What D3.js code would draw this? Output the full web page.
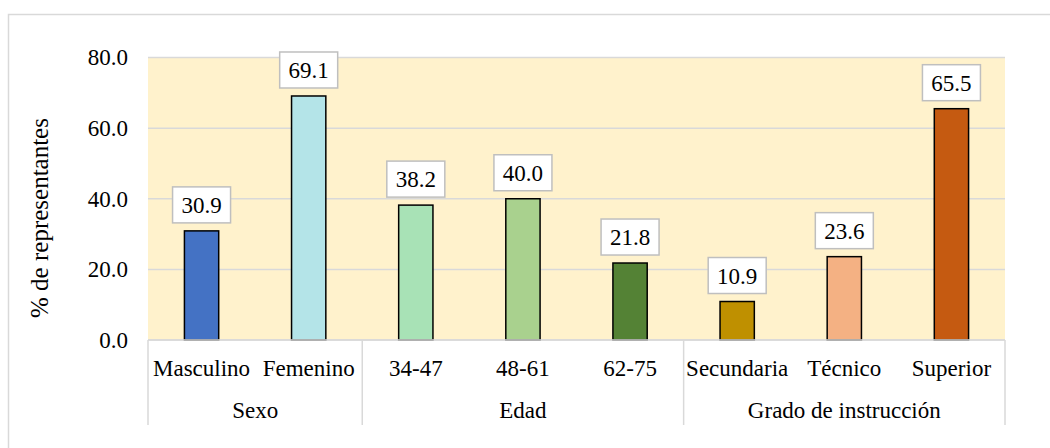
<!DOCTYPE html>
<html>
<head>
<meta charset="utf-8">
<script src="https://cdn.jsdelivr.net/npm/d3@7"></script>
<style>
  html, body { margin: 0; padding: 0; background: #fff; }
  svg { display: block; }
  svg text { font-family: "Liberation Serif", "Times New Roman", serif !important; fill: #000; }
</style>
</head>
<body>
<svg id="chart" width="1050" height="448"></svg>
<script>
const categories = ["Masculino", "Femenino", "34-47", "48-61", "62-75", "Secundaria", "Técnico", "Superior"];
const groups = ["Sexo", "Sexo", "Edad", "Edad", "Edad", "Grado de instrucción", "Grado de instrucción", "Grado de instrucción"];
const values = [30.9, 69.1, 38.2, 40.0, 21.8, 10.9, 23.6, 65.5];
const colors = ["#4472c4", "#b4e4e8", "#a8e2b6", "#a9d18e", "#548235", "#bf9000", "#f4b183", "#c55a11"];
const yTicks = [0, 20, 40, 60, 80];
const yTitle = "% de representantes";

const FONT = "'Liberation Serif', 'Times New Roman', serif";
const svg = d3.select("#chart");
const margin = { left: 148, right: 45, top: 57.5, bottom: 108 };
const W = 1050, H = 448;
const x0 = margin.left, x1 = W - margin.right;
const y0 = H - margin.bottom, y1 = margin.top;

// outer chart border (cut off on right and bottom like reference)
svg.append("rect").attr("x", 8.5).attr("y", 14.5).attr("width", 1100).attr("height", 500)
  .attr("fill", "#fff").attr("stroke", "#d9d9d9").attr("stroke-width", 1.5);

const x = d3.scaleBand().domain(categories).range([x0, x1]).paddingInner(0.68).paddingOuter(0.34);
const y = d3.scaleLinear().domain([0, 80]).range([y0, y1]);

// plot background
svg.append("rect").attr("x", x0).attr("y", y1).attr("width", x1 - x0).attr("height", y0 - y1)
  .attr("fill", "#fff2cc");

// gridlines
svg.append("g").selectAll("line").data(yTicks).join("line")
  .attr("x1", x0).attr("x2", x1)
  .attr("y1", d => y(d)).attr("y2", d => y(d))
  .attr("stroke", "#d9d9d9").attr("stroke-width", 1.5);

// y axis labels
const yAxis = d3.axisLeft(y).tickValues(yTicks).tickFormat(d3.format(".1f")).tickSize(0).tickPadding(20);
const gy = svg.append("g").attr("transform", `translate(${x0},0)`).call(yAxis)
  .attr("font-family", FONT).attr("font-size", 23);
gy.select(".domain").remove();
gy.selectAll("text").style("font-family", FONT).style("font-size", "23px").attr("fill", "#000");

// y title
svg.append("text").attr("transform", `translate(48,218) rotate(-90)`)
  .attr("text-anchor", "middle").style("font-family", FONT).style("font-size", "25px").text(yTitle);

// bars
svg.append("g").selectAll("rect").data(values).join("rect")
  .attr("x", (d, i) => x(categories[i]))
  .attr("y", d => y(d))
  .attr("width", x.bandwidth())
  .attr("height", d => y(0) - y(d))
  .attr("fill", (d, i) => colors[i])
  .attr("stroke", "#000").attr("stroke-width", 1.5);

// data labels
const lbl = svg.append("g").selectAll("g").data(values).join("g")
  .attr("transform", (d, i) => `translate(${x(categories[i]) + x.bandwidth() / 2},${y(d) - 8})`);
lbl.append("rect").attr("x", -29).attr("y", -36).attr("width", 58).attr("height", 36)
  .attr("fill", "#fff").attr("stroke", "#bfbfbf").attr("stroke-width", 1.5);
lbl.append("text").attr("text-anchor", "middle").attr("y", -10)
  .style("font-family", FONT).style("font-size", "23px")
  .text(d => d3.format(".1f")(d));

// category axis
svg.append("line").attr("x1", x0).attr("x2", x1).attr("y1", y0).attr("y2", y0)
  .attr("stroke", "#d9d9d9").attr("stroke-width", 1.5);
svg.append("g").selectAll("text").data(categories).join("text")
  .attr("x", d => x(d) + x.bandwidth() / 2).attr("y", 376)
  .attr("text-anchor", "middle").style("font-family", FONT).style("font-size", "23px").text(d => d);

// group spans
const groupNames = Array.from(new Set(groups));
const spans = groupNames.map(g => {
  const idx = groups.map((v, i) => v === g ? i : -1).filter(i => i >= 0);
  const first = categories[idx[0]], last = categories[idx[idx.length - 1]];
  const step = x.step();
  const start = x(first) - (step - x.bandwidth()) / 2;
  const end = x(last) + x.bandwidth() + (step - x.bandwidth()) / 2;
  return { g, start, end };
});
const seps = [spans[0].start].concat(spans.map(s => s.end));
svg.append("g").selectAll("line").data(seps).join("line")
  .attr("x1", d => d).attr("x2", d => d).attr("y1", y0).attr("y2", 425)
  .attr("stroke", "#d9d9d9").attr("stroke-width", 1.5);
svg.append("g").selectAll("text").data(spans).join("text")
  .attr("x", d => (d.start + d.end) / 2).attr("y", 418)
  .attr("text-anchor", "middle").style("font-family", FONT).style("font-size", "23px").text(d => d.g);
</script>
</body>
</html>
